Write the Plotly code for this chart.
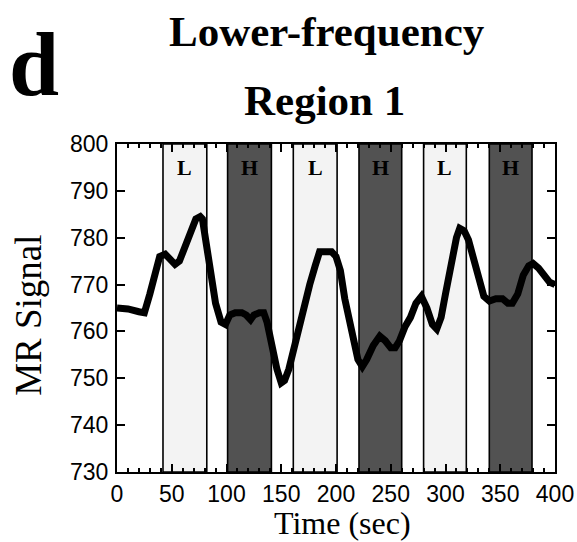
import plotly.graph_objects as go

# ---- data ----
time_sec = [0, 10, 20, 25, 30, 35, 39, 44, 48, 53, 57, 63, 68, 72, 76, 78, 82, 86, 90, 95, 99,
            103, 108, 114, 118, 122, 125, 130, 134, 137, 141, 146, 150, 153, 157, 161, 166, 171,
            176, 181, 185, 190, 196, 200, 204, 208, 212, 216, 220, 224, 228, 234, 240, 245, 250,
            254, 258, 263, 268, 273, 278, 283, 288, 292, 296, 300, 305, 310, 313, 317, 321, 325,
            330, 335, 340, 346, 352, 357, 361, 366, 371, 376, 380, 385, 390, 395, 400]
mr_signal = [765, 764.8, 764.2, 764, 768, 773, 776, 776.5, 775.5, 774.3, 775, 779, 782, 784, 784.5,
             784, 778, 771, 766, 762, 761.5,
             763.5, 764, 764, 763.5, 762.5, 763.5, 764, 764, 762, 757, 752, 749, 749.5, 752, 756,
             761, 766, 770, 774, 777, 777, 777, 776, 773, 767, 762, 758, 754, 752.5, 754, 757,
             759, 758, 756.5, 756.5, 758, 761, 763, 766, 767.5, 765, 761.5, 760.5, 763, 768, 775,
             780, 782, 781.5, 779.5, 776, 771, 767.5, 766.5, 767, 767, 766, 766, 768, 772, 774,
             774.5, 773.5, 772, 770.5, 770]

band_labels = ["L", "H", "L", "H", "L", "H"]
band_starts = [42, 101, 161, 221, 280, 340]
band_ends = [82, 141, 201, 260, 319, 379]

x_ticks = [0, 50, 100, 150, 200, 250, 300, 350, 400]
y_ticks = [730, 740, 750, 760, 770, 780, 790, 800]

band_fill = {"L": "#f3f3f3", "H": "#525252"}

fig = go.Figure()

shapes = []
annotations = []
for lab, x0, x1 in zip(band_labels, band_starts, band_ends):
    shapes.append(dict(type="rect", xref="x", yref="y", x0=x0, x1=x1, y0=730, y1=800,
                       fillcolor=band_fill[lab], line=dict(color="black", width=1.6),
                       layer="below"))
    annotations.append(dict(x=(x0 + x1) / 2, y=795, xref="x", yref="y", text=lab,
                            showarrow=False,
                            font=dict(family="Liberation Serif", size=22, color="black",
                                      weight="bold")))

fig.add_trace(go.Scatter(x=time_sec, y=mr_signal, mode="lines",
                         line=dict(color="black", width=7), hoverinfo="skip",
                         showlegend=False))

serif_bold = dict(family="Liberation Serif", color="black", weight="bold")
annotations += [
    dict(x=0.479, y=1.343, xref="paper", yref="paper", text="Lower-frequency",
         showarrow=False, xanchor="center", yanchor="middle", font=dict(size=43, **serif_bold)),
    dict(x=0.473, y=1.133, xref="paper", yref="paper", text="Region 1",
         showarrow=False, xanchor="center", yanchor="middle", font=dict(size=43, **serif_bold)),
    dict(x=-0.19, y=1.243, xref="paper", yref="paper", text="d",
         showarrow=False, xanchor="center", yanchor="middle", font=dict(size=90, **serif_bold)),
    dict(x=-0.201, y=0.479, xref="paper", yref="paper", text="MR Signal", textangle=-90,
         showarrow=False, xanchor="center", yanchor="middle",
         font=dict(family="Liberation Serif", size=37, color="black")),
    dict(x=0.514, y=-0.157, xref="paper", yref="paper", text="Time (sec)", borderpad=0,
         showarrow=False, xanchor="center", yanchor="middle",
         font=dict(family="Liberation Serif", size=32, color="black")),
]

tickfont = dict(family="Liberation Sans", size=23, color="black")
fig.update_layout(
    width=577, height=542, autosize=False,
    margin=dict(l=117, r=22, t=144, b=70, pad=0, autoexpand=False),
    paper_bgcolor="white", plot_bgcolor="white",
    shapes=shapes, annotations=annotations,
    xaxis=dict(range=[0, 400], tickvals=x_ticks, ticks="inside", ticklen=8, tickwidth=1.5,
               tickcolor="black", showline=True, linecolor="black", linewidth=2,
               mirror="ticks", showgrid=False, zeroline=False, tickfont=tickfont,
               ticklabelstandoff=0, automargin=False,
               minor=dict(dtick=10, ticks="inside", ticklen=4, tickwidth=1.5,
                          tickcolor="black", showgrid=False)),
    yaxis=dict(range=[730, 800], tickvals=y_ticks, ticks="inside", ticklen=8, tickwidth=1.5,
               tickcolor="black", showline=True, linecolor="black", linewidth=2,
               mirror="ticks", showgrid=False, zeroline=False, tickfont=tickfont,
               ticklabelstandoff=2, automargin=False),
)

fig.write_html("out.html", config={"displayModeBar": False},
               post_script="document.body.style.margin='0';document.body.style.overflow='hidden';")
